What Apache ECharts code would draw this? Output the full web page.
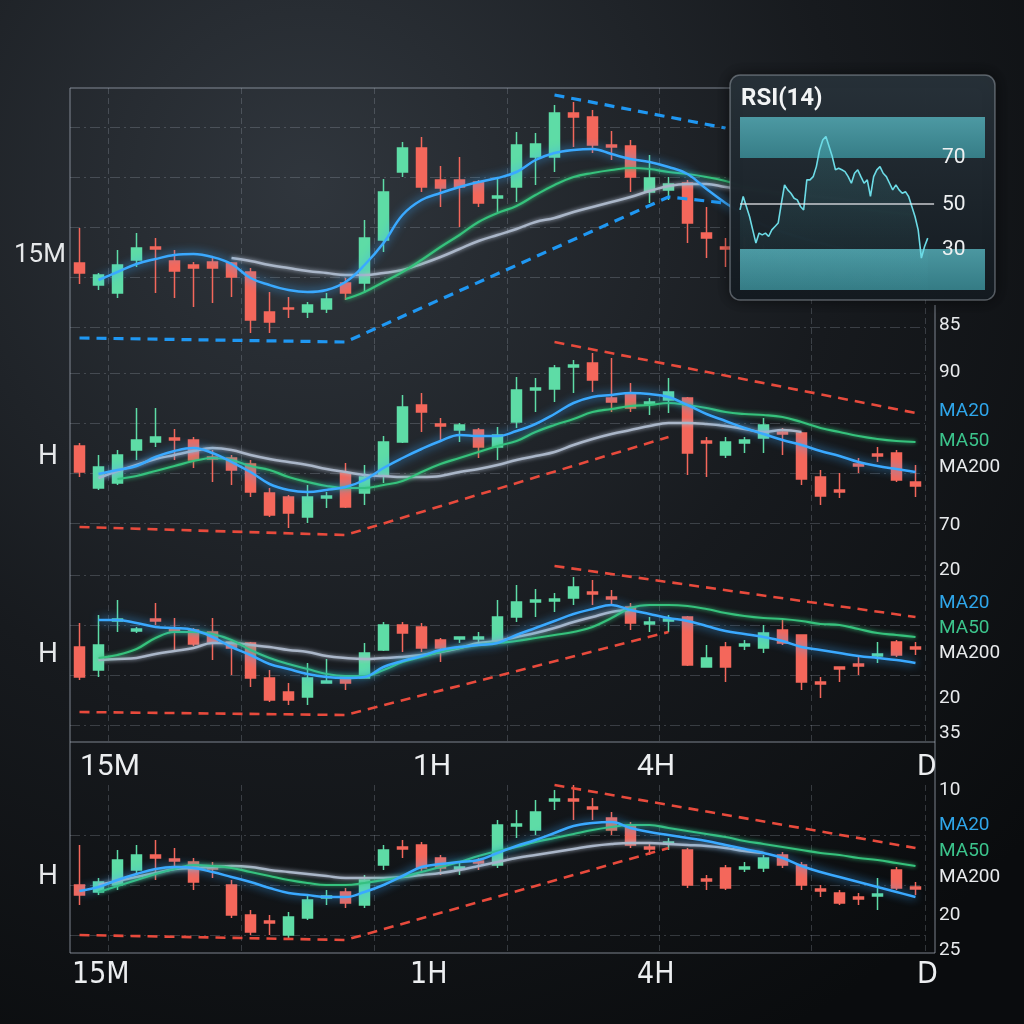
<!DOCTYPE html>
<html>
<head>
<meta charset="utf-8">
<script src="https://cdn.jsdelivr.net/npm/echarts@6/dist/echarts.min.js"></script>
<style>
html,body{margin:0;padding:0;background:#0c0e11;}
#chart{width:1024px;height:1024px;}
</style>
</head>
<body>
<div id="chart"></div>
<script>
// candle slots shared by the four timeframe panels
var slots = [];
for (var s = 0; s < 45; s++) slots.push('T' + (s + 1));

// candles: [open, close, low, high]
var p1Candles = [
  [114,104,93,149],[92,102,87,104],[84,112,79,127],[117,129,110,144],[130,128,84,139],
  [116,106,79,127],[112,109,70,115],[115,109,74,119],[114,100,80,115],[105,57,44,109],
  [65,55,44,85],[69,68,59,80],[65,72,59,75],[68,78,64,84],[94,84,77,99],
  [94,139,84,157],[137,185,125,198],[205,229,200,235],[229,190,185,240],[197,189,170,211],
  [197,190,150,220],[195,174,170,197],[179,181,165,199],[190,232,175,245],[220,233,192,244],
  [220,264,205,272],[264,260,230,275],[260,232,224,267],[232,230,217,246],[231,200,185,237],
  [185,199,174,222],[187,193,177,200],[194,154,134,197],[144,139,119,170],[130,128,110,139],
  [128,116,104,140],[116,124,108,132],[124,110,100,130],[112,102,94,118],[102,110,96,116],
  [110,100,94,114],[102,96,92,108],[96,104,92,110],[104,98,94,112],[98,94,90,104]
];
var p1Ma20 = [null,97,105,113,118,122,123,120,113,99,92,87,85,87,95,112,134,162,177,184,190,195,199,205,217,224,227,228,223,218,215,210,203,188,174,162,152,145,139,134,129,125,122,119,115];
var p1Ma50 = [null,null,null,null,null,null,null,null,null,null,null,null,null,null,78,85,95,105,117,130,142,155,164,171,182,192,200,204,207,209,208,205,203,200,196,190,186,182,178,175,172,169,166,164,162];
var p1Ma200 = [null,null,null,null,null,null,null,null,119,116,112,109,106,104,102,102,104,107,113,120,128,136,142,148,155,159,165,170,175,180,186,191,193,193,190,188,186,184,182,180,178,176,175,174,173];
var p1TrendLow = [[0,39],[14,35],[31,180],[34,174]];
var p1TrendHigh = [[25,282],[34,249]];

var p2Candles = [
  [127,101,96,130],[85,106,83,118],[90,118,88,123],[123,133,113,165],[131,136,126,165],
  [135,133,113,144],[133,113,105,136],[116,114,91,123],[115,103,88,118],[109,81,76,113],
  [80,58,56,85],[76,60,45,78],[56,76,50,88],[75,77,65,81],[100,66,65,110],
  [80,96,68,108],[98,131,90,137],[131,166,130,178],[168,161,141,180],[149,147,131,155],
  [143,148,131,150],[143,126,115,145],[126,138,113,146],[151,183,145,196],[183,185,161,195],
  [184,205,171,208],[206,208,180,213],[210,193,181,220],[175,171,161,215],[180,165,161,190],
  [169,171,158,175],[173,181,160,195],[175,120,98,176],[132,130,96,136],[118,131,115,136],
  [130,133,120,136],[135,148,120,155],[141,139,118,145],[140,94,88,141],[96,77,68,103],
  [83,81,75,100],[109,107,100,115],[119,117,111,126],[120,93,91,123],[91,87,76,108]
];
var p2Ma20 = [null,99,103,107,116,122,125,120,111,101,89,83,81,83,86,93,105,115,124,132,138,137,137,142,149,159,170,176,178,180,179,176,168,159,152,145,139,133,128,122,117,111,107,104,101];
var p2Ma50 = [null,null,94,97,102,107,112,115,113,107,103,96,91,87,85,85,88,92,101,109,115,121,127,132,141,148,154,161,164,167,168,170,168,165,161,159,158,156,151,145,141,137,134,132,131];
var p2Ma200 = [null,95,102,108,114,118,122,125,123,118,114,111,108,104,101,98,97,96,96,97,101,104,108,113,117,121,128,134,139,143,147,150,150,149,147,144,141,143,141];
var p2TrendLow = [[0,46],[14,38],[31,136]];
var p2TrendHigh = [[25,231],[44,160]];

var p3Candles = [
  [128,98,95,152],[105,130,98,160],[154,156,143,175],[144,146,142,148],[156,154,150,172],
  [146,144,125,157],[145,131,129,147],[143,133,115,157],[133,127,100,135],[132,97,88,133],
  [97,75,73,105],[83,75,70,92],[78,97,70,112],[92,94,92,116],[98,92,85,100],
  [97,122,97,132],[125,150,124,153],[150,142,123,153],[148,127,123,152],[135,127,113,137],
  [136,138,132,138],[136,138,132,143],[133,158,132,175],[158,173,153,190],[173,175,158,186],
  [174,176,163,182],[177,188,170,198],[183,181,170,195],[178,176,170,185],[168,152,145,172],
  [151,153,143,158],[154,156,143,160],[158,110,109,159],[108,117,108,130],[128,108,93,133],
  [129,131,125,135],[127,142,122,150],[145,132,130,155],[140,93,85,140],[93,91,77,98],
  [108,106,93,108],[111,109,100,118],[119,121,112,133],[133,120,118,135],[128,126,120,133]
];
var p3Ma20 = [null,155,155,152,148,147,145,138,128,120,111,106,101,98,97,98,108,114,119,125,128,130,132,140,147,154,161,166,170,165,161,157,154,149,144,141,138,134,128,125,122,119,117,115,112];
var p3Ma50 = [null,117,120,126,137,143,143,141,135,125,117,111,106,101,99,99,105,113,118,123,127,130,132,134,137,140,143,148,157,167,170,170,169,166,162,159,157,156,154,151,150,146,142,140,138];
var p3Ma200 = [null,115,116,117,121,124,127,132,132,130,128,125,123,119,117,116,117,118,120,123,127,132,134,138,142,147,153,158,163,165];
var p3TrendLow = [[0,63],[14,60],[31,143]];
var p3TrendHigh = [[25,209],[44,158]];

var p4Candles = [
  [100,90,80,140],[93,103,90,107],[100,125,95,135],[115,130,110,140],[130,127,105,145],
  [126,124,115,137],[123,103,95,127],[118,116,107,123],[100,70,67,105],[70,53,50,75],
  [64,62,50,70],[50,68,47,73],[67,85,65,90],[87,89,80,95],[93,82,77,97],
  [80,105,77,110],[120,135,115,140],[138,136,127,145],[140,117,113,143],[127,117,110,130],
  [116,118,110,123],[124,122,115,127],[120,160,117,165],[159,161,147,175],[155,173,150,185],
  [184,186,175,195],[186,184,165,200],[178,176,165,187],[167,155,150,173],[159,140,137,163],
  [138,136,130,143],[141,143,135,147],[135,100,97,137],[106,104,95,110],[117,97,95,120],
  [116,118,113,123],[117,127,113,130],[130,120,117,133],[120,100,95,123],[96,94,88,100],
  [92,82,80,95],[88,86,80,92],[89,91,75,107],[115,97,95,118],[98,96,90,103]
];
var p4Ma20 = [94,98,105,111,116,118,117,113,108,103,97,92,90,88,88,93,100,109,118,121,123,125,132,139,145,152,159,162,163,157,153,150,147,144,140,136,132,127,119,113,108,103,98,93,88];
var p4Ma50 = [null,93,99,105,111,116,120,119,117,113,109,105,102,100,100,102,105,108,113,118,123,129,134,138,143,147,151,155,158,160,160,157,154,151,148,144,141,138,135,132,130,127,125,122,119];
var p4Ma200 = [null,100,104,108,112,116,117,118,119,118,115,113,111,109,107,107,107,108,110,112,115,119,123,127,130,133,136,139,141,142,142,141,140,139,137,134,132];
var p4TrendLow = [[0,50],[14,45],[31,137]];
var p4TrendHigh = [[25,200],[44,137]];

// RSI(14) inset
var rsiValues = [47.2,53.1,48.7,44.3,38.4,32.6,37,36.2,37,35.5,38.4,39.9,41.4,50.1,58.2,56,54.5,52.3,51.6,48.7,
  47.2,60.4,60.4,61.8,66.2,73.5,77.9,79.4,75,70.6,64.8,65.5,64.8,64,61.8,58.9,63.3,64.8,61.8,58.9,
  60.4,53.1,61.8,64.8,66.2,63.3,61.8,58.9,56,58.2,56,54.5,55.2,53.1,48.7,44.3,38.4,26,31.1,34.8];
var rsiLevels = ['70', '50', '30'];

var timeframeTicks = ['15M', '1H', '4H', 'D'];
var panelNames = ['15M', 'H', 'H', 'H'];
var sideLabels = ['85', '90', 'MA20', 'MA50', 'MA200', '70', '20', 'MA20', 'MA50', 'MA200', '20', '35', '10', 'MA20', 'MA50', 'MA200', '20', '25'];

// ---- styles / layout ----
var UP = '#5edca6', DOWN = '#f4675b';
var C_MA20 = '#3aa9ff', C_MA50 = '#36c27c', C_MA200 = '#aab6c8';
var gridLine = 'rgba(190,200,212,0.22)';
var vLines = [2, 9, 16, 23, 31, 39];
var panels = [
  {top: 88, height: 257, min: 32, max: 289},
  {top: 345, height: 220, min: 8, max: 228},
  {top: 565, height: 177, min: 33, max: 210},
  {top: 785, height: 168, min: 32, max: 200}
];

var chart = echarts.init(document.getElementById('chart'));

var grids = [], xAxes = [], yAxes = [], series = [];
panels.forEach(function (p, i) {
  grids.push({left: 70, right: 99, top: p.top, height: p.height});
  xAxes.push({
    type: 'category', gridIndex: i, data: slots, boundaryGap: true,
    axisLine: {show: false}, axisTick: {show: false}, axisLabel: {show: false},
    splitLine: {show: true, interval: function (idx) { return vLines.indexOf(idx) >= 0; },
      lineStyle: {color: gridLine, type: [6, 4]}}
  });
  yAxes.push({
    type: 'value', gridIndex: i, min: p.min, max: p.max, minInterval: 50, maxInterval: 50,
    axisLine: {show: false}, axisTick: {show: false}, axisLabel: {show: false},
    splitLine: {show: true, showMinLine: false, showMaxLine: false,
      lineStyle: {color: gridLine, type: [10, 4, 2, 4]}}
  });
});
// RSI grid
grids.push({left: 740, right: 39, top: 117, height: 173});
xAxes.push({type: 'value', gridIndex: 4, min: 0, max: 77, show: false, splitLine: {show: false}});
yAxes.push({type: 'value', gridIndex: 4, min: 12, max: 88, show: false, splitLine: {show: false}});

function addPanel(i, candles, ma20, ma50, ma200, low, high, trendColor, trendWidth) {
  series.push({
    type: 'candlestick', xAxisIndex: i, yAxisIndex: i, data: candles, barWidth: 11,
    itemStyle: {color: UP, color0: DOWN, borderColor: UP, borderColor0: DOWN, borderWidth: 1.5}
  });
  var ma = [[ma200, C_MA200, 2.5, 4], [ma50, C_MA50, 2.2, 4], [ma20, C_MA20, 2.5, 10]];
  ma.forEach(function (m) {
    series.push({
      type: 'line', xAxisIndex: i, yAxisIndex: i, data: m[0], smooth: 0.4, showSymbol: false,
      lineStyle: {color: m[1], width: m[2], shadowBlur: m[3], shadowColor: m[1]}
    });
  });
  [low, high].forEach(function (t) {
    series.push({
      type: 'line', xAxisIndex: i, yAxisIndex: i, data: t, showSymbol: false, clip: false,
      lineStyle: {color: trendColor, width: trendWidth, type: [10, 7]}
    });
  });
}
addPanel(0, p1Candles, p1Ma20, p1Ma50, p1Ma200, p1TrendLow, p1TrendHigh, '#1f97f2', 3.2);
addPanel(1, p2Candles, p2Ma20, p2Ma50, p2Ma200, p2TrendLow, p2TrendHigh, '#e84a3c', 2.6);
addPanel(2, p3Candles, p3Ma20, p3Ma50, p3Ma200, p3TrendLow, p3TrendHigh, '#e84a3c', 2.6);
addPanel(3, p4Candles, p4Ma20, p4Ma50, p4Ma200, p4TrendLow, p4TrendHigh, '#e84a3c', 2.6);

series.push({
  type: 'line', xAxisIndex: 4, yAxisIndex: 4, z: 60, showSymbol: false,
  data: rsiValues.map(function (v, i) { return [i, v]; }),
  lineStyle: {color: '#6cdbe6', width: 1.6},
  areaStyle: {origin: 'start', color: new echarts.graphic.LinearGradient(0, 0, 0, 1, [
    {offset: 0, color: 'rgba(80,190,200,0.28)'}, {offset: 1, color: 'rgba(80,190,200,0.02)'}])},
  markArea: {silent: true, z: 55, itemStyle: {color: new echarts.graphic.LinearGradient(0, 0, 0, 1, [
      {offset: 0, color: 'rgba(84,172,182,0.85)'}, {offset: 1, color: 'rgba(58,140,150,0.85)'}])},
    data: [[{yAxis: 70}, {yAxis: 88}], [{yAxis: 12}, {yAxis: 30}]]},
  markLine: {silent: true, z: 62, symbol: 'none', label: {show: false},
    lineStyle: {color: 'rgba(230,232,235,0.85)', width: 1.6, type: 'solid'},
    data: [[{coord: [0, 50]}, {coord: [61, 50]}]]}
});

// ---- decorations: frame, inset box, texts ----
var frame = 'rgba(160,170,182,0.5)';
var graphics = [
  {type: 'line', shape: {x1: 70, y1: 88, x2: 730, y2: 88}, style: {stroke: frame, lineWidth: 1.5}},
  {type: 'line', shape: {x1: 70, y1: 88, x2: 70, y2: 953}, style: {stroke: frame, lineWidth: 1.5}},
  {type: 'line', shape: {x1: 70, y1: 742, x2: 935, y2: 742}, style: {stroke: frame, lineWidth: 1.5}},
  {type: 'line', shape: {x1: 70, y1: 953, x2: 935, y2: 953}, style: {stroke: frame, lineWidth: 1.5}},
  {type: 'line', shape: {x1: 935, y1: 305, x2: 935, y2: 953}, style: {stroke: frame, lineWidth: 1.5}},
  {type: 'rect', z: 50, shape: {x: 730, y: 75, width: 265, height: 225, r: 10},
    style: {fill: new echarts.graphic.LinearGradient(0, 0, 0, 1, [
      {offset: 0, color: 'rgba(40,50,58,0.97)'}, {offset: 1, color: 'rgba(20,27,33,0.97)'}]),
      stroke: 'rgba(190,200,210,0.4)', lineWidth: 1.5,
      shadowBlur: 14, shadowColor: 'rgba(0,0,0,0.6)'}},
  {type: 'text', z: 70, x: 741, y: 99, style: {text: 'RSI(14)', fill: '#f2f4f5',
    font: 'bold 24px Roboto', textVerticalAlign: 'middle'}}
];
var rsiY = [158, 205, 250];
rsiLevels.forEach(function (t, i) {
  graphics.push({type: 'text', z: 70, x: 942, y: rsiY[i], style: {text: t, fill: '#eef0f1',
    font: '21px Roboto', textVerticalAlign: 'middle'}});
});
var panelLabelPos = [[14, 255, 26], [38, 457, 28], [38, 655, 28], [38, 877, 28]];
panelNames.forEach(function (t, i) {
  var p = panelLabelPos[i];
  graphics.push({type: 'text', x: p[0], y: p[1], style: {text: t, fill: '#e6e8ea',
    font: p[2] + 'px Roboto', textVerticalAlign: 'middle'}});
});
var tickX = [80, 413, 637, 917];
var tickX2 = [72, 410, 637, 917];
timeframeTicks.forEach(function (t, i) {
  graphics.push({type: 'text', x: tickX[i], y: 767, style: {text: t, fill: '#eceef0',
    font: '30px Roboto', textVerticalAlign: 'middle'}});
  graphics.push({type: 'text', x: tickX2[i], y: 975, style: {text: t, fill: '#eceef0',
    font: '30px "DejaVu Sans Condensed", "Liberation Sans Narrow", sans-serif', textVerticalAlign: 'middle'}});
});
var sideY = [325, 372, 411, 441, 467, 525, 570, 603, 628, 653, 698, 733, 790, 825, 851, 877, 915, 950];
sideLabels.forEach(function (t, i) {
  var col = t === 'MA20' ? '#2fa6ea' : t === 'MA50' ? '#3cc48c' : '#e8eaec';
  graphics.push({type: 'text', x: 939, y: sideY[i], style: {text: t, fill: col,
    font: '19px Roboto', textVerticalAlign: 'middle'}});
});

chart.setOption({
  animation: false,
  backgroundColor: new echarts.graphic.RadialGradient(0.3, 0.18, 0.95, [
    {offset: 0, color: '#30363d'}, {offset: 0.55, color: '#171a1e'}, {offset: 1, color: '#0a0c0e'}]),
  grid: grids,
  xAxis: xAxes,
  yAxis: yAxes,
  series: series,
  graphic: graphics
});
</script>
</body>
</html>
